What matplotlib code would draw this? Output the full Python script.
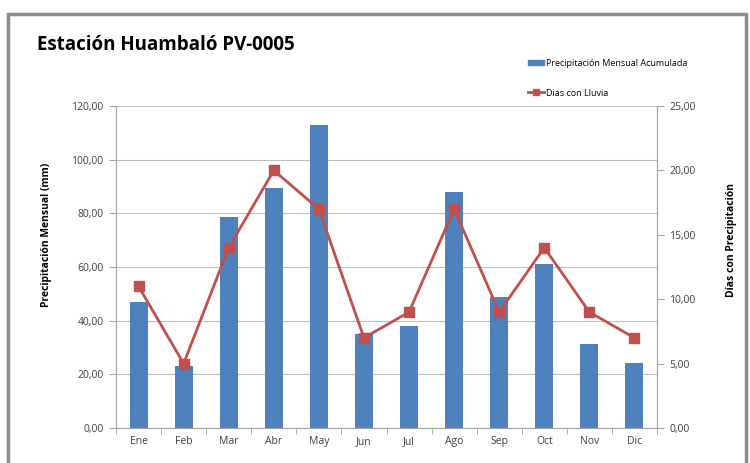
import numpy as np
import matplotlib.pyplot as plt
from matplotlib.patches import Rectangle, Patch
from matplotlib.lines import Line2D
from matplotlib.ticker import FuncFormatter, MultipleLocator

plt.rcParams['font.family'] = ['Open Sans', 'DejaVu Sans']

# Data
meses = ['Ene', 'Feb', 'Mar', 'Abr', 'May', 'Jun', 'Jul', 'Ago', 'Sep', 'Oct', 'Nov', 'Dic']
precipitacion = [47.0, 23.1, 78.8, 89.5, 112.9, 34.9, 37.9, 88.1, 48.9, 61.1, 31.3, 24.1]
dias_lluvia = [11, 5, 14, 20, 17, 7, 9, 17, 9, 14, 9, 7]

azul = '#4F81BD'
rojo = '#C0504D'
gris = '#A6A6A6'

W, H = 750, 463
fig = plt.figure(figsize=(W / 100, H / 100), dpi=100)

# outer chart frame
fig.patches.append(Rectangle((8 / W, -0.05), 738 / W, 1.05 - 14 / H, transform=fig.transFigure,
                             fill=False, edgecolor='#8C8C8C', linewidth=2.5))

ax = fig.add_axes([116 / W, 1 - 428 / H, 541 / W, 322 / H])
x = np.arange(len(meses))
ax.bar(x, precipitacion, width=0.4, color=azul, zorder=2)
ax.set_xlim(-0.5, len(meses) - 0.5)
ax.set_ylim(0, 120)
ax.yaxis.set_major_locator(MultipleLocator(20))
fmt = FuncFormatter(lambda v, p: f'{v:.2f}'.replace('.', ','))
ax.yaxis.set_major_formatter(fmt)
ax.grid(axis='y', color='#BFBFBF', linewidth=0.8, zorder=0)
ax.set_xticks(x)
ax.set_xticklabels(meses)
ax.set_xticks(np.arange(-0.5, len(meses)), minor=True)
ax.tick_params(axis='x', which='major', length=0, labelsize=7.5, pad=6, colors='#404040')
ax.tick_params(axis='x', which='minor', length=4, color=gris)
ax.tick_params(axis='y', length=5, color=gris, labelsize=7.5, labelcolor='#404040', pad=4)
ax.spines['top'].set_visible(False)
for s in ['left', 'bottom', 'right']:
    ax.spines[s].set_color(gris)
ax.set_ylabel('Precipitación Mensual (mm)', fontsize=7.5, fontweight='bold')
ax.yaxis.set_label_coords((52 - 116) / 541, (428 - 235) / 322)

ax2 = ax.twinx()
ax2.plot(x, dias_lluvia, color=rojo, linewidth=2, marker='s', markersize=6.5, zorder=3)
ax2.set_ylim(0, 25)
ax2.yaxis.set_major_locator(MultipleLocator(5))
ax2.yaxis.set_major_formatter(fmt)
ax2.tick_params(axis='y', length=5, color=gris, labelsize=7.5, labelcolor='#404040', pad=4)
ax2.spines['top'].set_visible(False)
for s in ['left', 'bottom', 'right']:
    ax2.spines[s].set_color(gris)
ax2.set_ylabel('Días con Precipitación', fontsize=7.5, fontweight='bold')
ax2.yaxis.set_label_coords((726 - 116) / 541, (428 - 240) / 322)

fig.text(37 / W, 1 - 45 / H, 'Estación Huambaló PV-0005', fontsize=13.5, fontweight='bold',
         va='center', ha='left')

fig.legend(handles=[Patch(color=azul)], labels=['Precipitación Mensual Acumulada'],
           loc='center left', bbox_to_anchor=(520 / W, 1 - 63 / H), frameon=False,
           fontsize=6.5, handlelength=1.8, handleheight=0.5, handletextpad=0.2)
fig.legend(handles=[Line2D([], [], color=rojo, linewidth=2, marker='s', markersize=5)],
           labels=['Dias con Lluvia'], loc='center left', bbox_to_anchor=(520 / W, 1 - 93 / H),
           frameon=False, fontsize=6.5, handlelength=1.8, handletextpad=0.2)

fig.savefig('out.png', dpi=100)
